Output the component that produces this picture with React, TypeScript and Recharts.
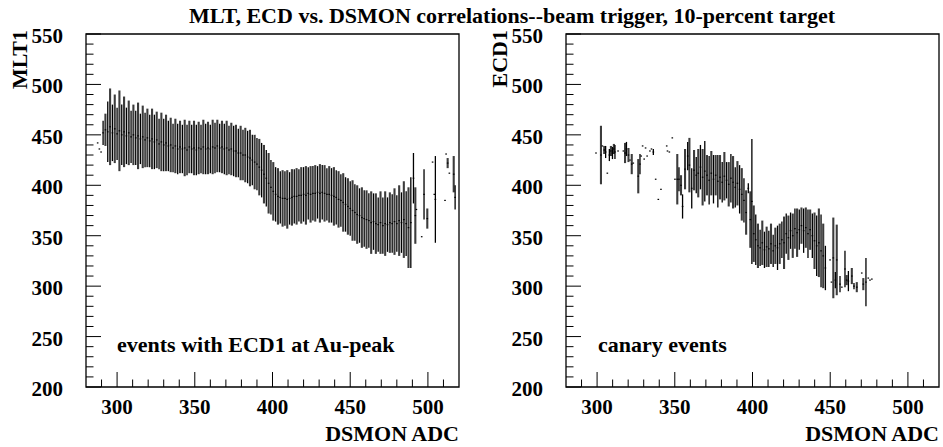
import React from "react";
import { ScatterChart, Scatter, XAxis, YAxis, ErrorBar, ReferenceArea } from "recharts";

const FONT = '"Liberation Serif", "Times New Roman", serif';

const TITLE = "MLT, ECD vs. DSMON correlations--beam trigger, 10-percent target";
const X_TITLE = "DSMON ADC";

const X_TICKS = [290, 300, 310, 320, 330, 340, 350, 360, 370, 380, 390, 400, 410, 420, 430, 440, 450, 460, 470, 480, 490, 500, 510];
const Y_TICKS = [
  200, 210, 220, 230, 240, 250, 260, 270, 280, 290, 300, 310, 320, 330, 340, 350, 360, 370,
  380, 390, 400, 410, 420, 430, 440, 450, 460, 470, 480, 490, 500, 510, 520, 530, 540, 550,
];

// left panel: MLT1 profile, bins of 1.5 ADC starting at 291
const LEFT_START = 291;
const LEFT_STEP = 1.5;
const LEFT_MEAN = [
  452, 455, 453, 458, 452, 456, 451, 454, 450, 453,
  449, 452, 448, 450, 447, 449, 446, 448, 445, 447,
  444, 446, 443, 445, 441, 443, 440, 442, 439, 440,
  437, 439, 436, 438, 436, 437, 435, 438, 436, 437,
  435, 437, 436, 438, 436, 437, 436, 438, 437, 439,
  437, 438, 436, 437, 435, 436, 434, 434, 432, 432,
  430, 430, 428, 427, 425, 423, 421, 418, 415, 411,
  407, 402, 398, 394, 391, 389, 388, 387, 387, 386,
  387, 388, 389, 389, 390, 390, 391, 390, 392, 391,
  392, 392, 393, 392, 393, 392, 391, 391, 390, 389,
  388, 386, 385, 383, 381, 379, 377, 375, 373, 371,
  370, 368, 367, 366, 365, 363, 364, 362, 361, 363,
  360, 362, 361, 363, 362, 364, 362, 365, 363, 366,
  362, 358, 363,
];
const LEFT_ERR = [
  12, 16, 30, 38, 28, 34, 26, 40, 30, 35,
  28, 32, 26, 30, 27, 33, 25, 31, 27, 29,
  26, 30, 27, 28, 25, 29, 26, 28, 25, 27,
  24, 27, 25, 26, 24, 28, 25, 26, 24, 27,
  25, 26, 24, 27, 25, 26, 24, 27, 25, 26,
  24, 26, 25, 27, 24, 26, 25, 26, 24, 27,
  25, 27, 26, 28, 25, 27, 26, 28, 27, 29,
  28, 30, 27, 29, 27, 28, 26, 28, 27, 29,
  26, 28, 27, 28, 26, 28, 27, 29, 26, 28,
  27, 28, 26, 29, 27, 28, 26, 28, 27, 29,
  27, 28, 26, 29, 27, 28, 27, 30, 28, 29,
  27, 30, 28, 29, 27, 31, 28, 30, 27, 31,
  28, 32, 27, 30, 29, 33, 28, 35, 30, 38,
  32, 40, 45,
];
const LEFT_EXTRA_X = [287.5, 288.6, 289.7, 490.7, 491.9, 492.6, 496.0, 497.5, 499.6, 503.0, 504.1, 504.8, 511.0, 511.7, 512.7, 513.8, 516.6, 517.5];
const LEFT_EXTRA_MEAN = [442, 436, 433, 407, 370, 376, 349, 391, 367, 423, 391, 386, 385, 431, 422, 412, 411, 388];
const LEFT_EXTRA_ERR = [0, 0, 0, 25, 28, 0, 0, 25, 10, 0, 0, 43, 0, 0, 5, 0, 18, 12];

// right panel: ECD1 profile for canary events
const RIGHT_X = [
  299.3, 302.5, 303.4, 304.6, 305.5, 306.6, 307.9, 308.9, 309.9, 310.8,
  311.5, 313.5, 316.9, 318.0, 318.9, 320.2, 321.2, 322.3, 323.3, 326.5,
  327.6, 328.4, 329.3, 330.3, 331.2, 332.2, 334.0, 335.0, 336.2, 337.7,
  339.4, 341.1, 344.8, 345.3, 346.5, 348.4, 350.1,
  351.6, 352.7, 354.0, 355.0, 356.6, 358.3, 359.4, 360.9, 362.4, 363.8,
  365.1, 366.5, 367.9, 369.3, 370.7, 372.1, 373.5, 374.9, 376.3, 377.7,
  379.1, 380.5, 381.9, 383.3, 384.7, 386.1, 387.5, 388.9, 390.3, 391.7,
  393.1, 394.5, 395.9, 397.3, 398.6, 399.6, 400.8, 402.1, 403.5, 404.9,
  406.3, 407.7, 409.1, 410.5, 411.9, 413.3, 414.7, 416.1, 417.5, 418.9,
  420.3, 421.7, 423.1, 424.5, 425.9, 427.3, 428.7, 430.1, 431.5, 432.9,
  434.3, 435.7, 437.1, 438.5, 439.9, 441.3, 442.7, 444.1, 445.5, 446.9,
  449.9, 450.8, 452.0, 453.3, 454.2, 456.3, 457.5, 459.5, 460.6, 461.7,
  463.9, 465.3, 467.1, 470.3, 471.3, 473.0, 474.5, 475.6, 476.8,
];
const RIGHT_MEAN = [
  432, 430, 439, 435, 433, 412, 430, 434, 432, 436,
  433, 434, 434, 432, 436, 430, 425, 421, 422, 409,
  421, 429, 439, 426, 437, 429, 434, 436, 433, 406,
  386, 396, 439, 434, 433, 447, 406,
  406, 406, 400, 379, 416, 429, 420, 397, 415, 410,
  412, 418, 408, 414, 410, 405, 412, 406, 410, 404,
  408, 403, 409, 405, 401, 407, 403, 398, 402, 396,
  391, 385, 373, 397, 366, 384, 352, 346, 340, 338,
  343, 336, 339, 337, 342, 335, 340, 338, 342, 346,
  343, 352, 348, 355, 350, 357, 353, 356, 360, 355,
  358, 352, 356, 350, 345, 340, 343, 335, 330, 318,
  326, 304, 328, 306, 326, 302, 299, 317, 306, 305,
  310, 300, 299, 313, 302, 304, 308, 306, 307,
];
const RIGHT_ERR = [
  0, 29, 0, 4, 6, 0, 6, 5, 6, 5,
  7, 0, 0, 10, 7, 7, 0, 10, 0, 17,
  10, 0, 0, 0, 0, 0, 0, 0, 3, 0,
  0, 0, 0, 0, 0, 0, 0,
  25, 12, 10, 12, 20, 14, 27, 20, 20, 18,
  24, 22, 28, 30, 20, 24, 22, 24, 20, 26,
  22, 20, 24, 18, 22, 24, 26, 20, 22, 24,
  26, 22, 22, 5, 28, 62, 28, 25, 22, 18,
  22, 18, 20, 18, 20, 16, 18, 22, 20, 18,
  26, 20, 22, 18, 22, 20, 24, 20, 18, 22,
  20, 24, 20, 22, 28, 30, 34, 36, 32, 22,
  0, 0, 40, 8, 35, 8, 0, 18, 5, 10,
  8, 3, 5, 0, 6, 24, 0, 0, 0,
];

type Pt = { x: number; y: number; err: number };

const leftPts: Pt[] = [
  ...LEFT_MEAN.map((y, i) => ({ x: LEFT_START + i * LEFT_STEP, y, err: LEFT_ERR[i] })),
  ...LEFT_EXTRA_X.map((x, i) => ({ x, y: LEFT_EXTRA_MEAN[i], err: LEFT_EXTRA_ERR[i] })),
];
const rightPts: Pt[] = RIGHT_X.map((x, i) => ({ x, y: RIGHT_MEAN[i], err: RIGHT_ERR[i] }));

const labelStyle = { fontFamily: FONT, fontWeight: 700, fill: "#000" };

function XTick(props: any) {
  const { x, y, payload } = props;
  const v = payload.value;
  const major = v % 50 === 0;
  return (
    <g>
      <line x1={x} x2={x} y1={y} y2={y - (major ? 15 : 7.5)} stroke="#000" strokeWidth={1} />
      {major && (
        <text x={x} y={y + 26.5} textAnchor="middle" fontSize={21} style={labelStyle}>
          {v}
        </text>
      )}
    </g>
  );
}

function YTick(props: any) {
  const { x, y, payload } = props;
  const v = payload.value;
  const major = v % 50 === 0;
  return (
    <g>
      <line x1={x} x2={x + (major ? 15 : 7.5)} y1={y} y2={y} stroke="#000" strokeWidth={1} />
      {major && (
        <text x={x - 23} y={y + 9} textAnchor="end" fontSize={21} style={labelStyle}>
          {v}
        </text>
      )}
    </g>
  );
}

const dot = (p: any) => <rect x={p.cx - 0.8} y={p.cy - 0.6} width={1.6} height={1.2} fill="#000" />;

interface PanelProps {
  data: Pt[];
  left: number;
  width: number;
  marginLeft: number;
  marginRight: number;
}

function Panel({ data, left, width, marginLeft, marginRight }: PanelProps) {
  // alternate dark / grey bars like the overlapping profile bins
  const even = data.filter((_, i) => i % 2 === 0);
  const odd = data.filter((_, i) => i % 2 === 1);
  return (
    <div style={{ position: "absolute", left, top: 0 }}>
      <ScatterChart
        width={width}
        height={447}
        margin={{ top: 34, right: marginRight, bottom: 30, left: marginLeft }}
      >
        <XAxis
          type="number"
          dataKey="x"
          domain={[280, 520]}
          allowDataOverflow
          ticks={X_TICKS}
          interval={0}
          height={30}
          axisLine={false}
          tickLine={false}
          tickSize={0}
          tickMargin={0}
          tick={XTick}
        />
        <YAxis
          type="number"
          dataKey="y"
          domain={[200, 550]}
          allowDataOverflow
          ticks={Y_TICKS}
          interval={0}
          width={60}
          axisLine={false}
          tickLine={false}
          tickSize={0}
          tickMargin={0}
          tick={YTick}
        />
        <ReferenceArea x1={280} x2={520} y1={200} y2={550} fill="none" stroke="#000" strokeWidth={1.3} />
        <Scatter data={odd} isAnimationActive={false} shape={dot}>
          <ErrorBar dataKey="err" direction="y" width={0} stroke="#3c3c3c" strokeWidth={2.1} isAnimationActive={false} />
        </Scatter>
        <Scatter data={even} isAnimationActive={false} shape={dot}>
          <ErrorBar dataKey="err" direction="y" width={0} stroke="#000" strokeWidth={1.3} isAnimationActive={false} />
        </Scatter>
      </ScatterChart>
    </div>
  );
}

export default function App() {
  return (
    <div style={{ position: "absolute", left: 0, top: 0, width: 943, height: 447, background: "#fff" }}>
      <Panel data={leftPts} left={0} width={472} marginLeft={26} marginRight={13} />
      <Panel data={rightPts} left={472} width={471} marginLeft={34} marginRight={4} />
      <svg
        width={943}
        height={447}
        style={{ position: "absolute", left: 0, top: 0, pointerEvents: "none" }}
      >
        <text x={512} y={22.5} textAnchor="middle" fontSize={22} style={labelStyle}>
          {TITLE}
        </text>
        <text transform="translate(27,30) rotate(-90)" textAnchor="end" fontSize={22} style={labelStyle}>
          MLT1
        </text>
        <text transform="translate(507,30) rotate(-90)" textAnchor="end" fontSize={22} style={labelStyle}>
          ECD1
        </text>
        <text x={459} y={441} textAnchor="end" fontSize={22} style={labelStyle}>
          {X_TITLE}
        </text>
        <text x={939} y={441} textAnchor="end" fontSize={22} style={labelStyle}>
          {X_TITLE}
        </text>
        <text x={117} y={352} fontSize={22} style={labelStyle}>
          events with ECD1 at Au-peak
        </text>
        <text x={598} y={352} fontSize={22} style={labelStyle}>
          canary events
        </text>
      </svg>
    </div>
  );
}
